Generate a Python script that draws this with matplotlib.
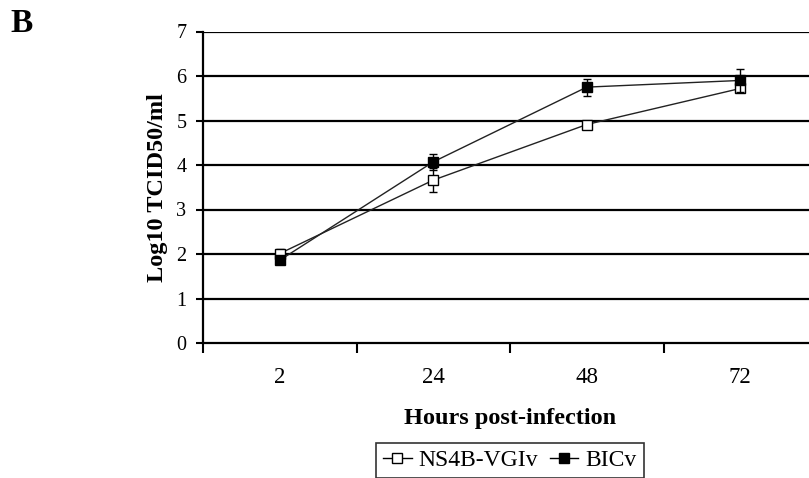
import numpy as np
import matplotlib
matplotlib.use('Agg')
import matplotlib.pyplot as plt
from matplotlib.lines import Line2D

hours = ['2', '24', '48', '72']
ns4b = [2.01, 3.66, 4.91, 5.72]
ns4b_err = [0.10, 0.27, 0.05, 0.08]
bicv = [1.86, 4.07, 5.75, 5.90]
bicv_err = [0.05, 0.18, 0.19, 0.26]

plt.rcParams['font.family'] = ['Liberation Serif', 'DejaVu Serif']

fig = plt.figure(figsize=(8.09, 4.78), dpi=100)
ax = fig.add_axes([203/809., 1 - 343/478., 614/809., (343 - 31.5)/478.])

x = np.arange(len(hours)) + 0.5
ax.errorbar(x, ns4b, yerr=ns4b_err, color='#222222', lw=1, marker='s', ms=7.5,
            mfc='white', mec='black', mew=1, capsize=3, ecolor='black',
            elinewidth=1, zorder=3)
ax.errorbar(x, bicv, yerr=bicv_err, color='#222222', lw=1, marker='s', ms=7.5,
            mfc='black', mec='black', mew=1, capsize=3, ecolor='black',
            elinewidth=1, zorder=4)

ax.set_ylim(0, 7)
ax.set_xlim(0, 4)
ax.set_yticks(range(8))
for yv in range(1, 8):
    ax.axhline(yv, color='black', lw=1.6, zorder=1)

ax.set_xticks(range(5))
ax.set_xticklabels([])
ax.set_xticks(x, minor=True)
ax.set_xticklabels(hours, minor=True)
ax.tick_params(axis='x', which='major', direction='out', length=7, width=1.5,
               top=False, labeltop=False)
ax.tick_params(axis='x', which='minor', length=0, pad=17, labelsize=16.5,
               top=False, labeltop=False)
ax.tick_params(axis='y', direction='out', length=5, width=1.5, labelsize=14.5, pad=7)

for s in ['top', 'right']:
    ax.spines[s].set_visible(False)
for s in ['left', 'bottom']:
    ax.spines[s].set_linewidth(1.6)

ax.set_xlabel('Hours post-infection', fontweight='bold', fontsize=17.5, labelpad=15)
ax.set_ylabel('Log10 TCID50/ml', fontweight='bold', fontsize=17.5, labelpad=6)

handles = [Line2D([], [], color='black', lw=1, marker='s', ms=7, mfc='white', mec='black'),
           Line2D([], [], color='black', lw=1, marker='s', ms=7, mfc='black', mec='black')]
leg = ax.legend(handles, ['NS4B-VGIv', 'BICv'], loc='upper center',
                bbox_to_anchor=(0.5, -0.32), ncol=2,
                fontsize=17, frameon=True, fancybox=False, edgecolor='black',
                handlelength=1.2, handletextpad=0.3, columnspacing=0.5,
                borderpad=0.3, borderaxespad=0)
leg.get_frame().set_linewidth(1.2)

fig.text(10/809., 1 - 24/478., 'B', fontsize=24, fontweight='bold',
         ha='left', va='center')

plt.savefig('out.png', dpi=100)
